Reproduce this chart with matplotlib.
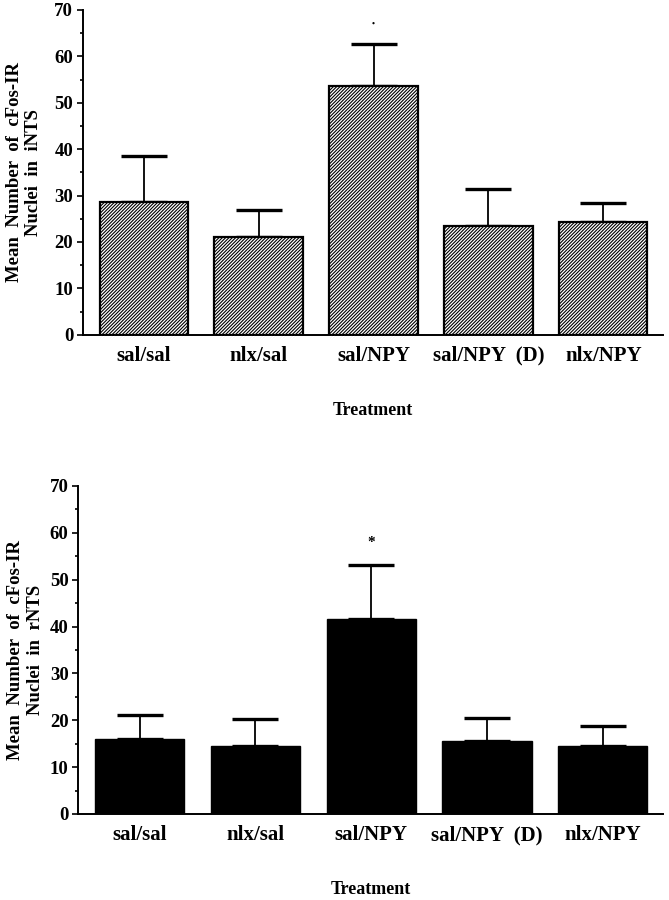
import numpy as np
import matplotlib
matplotlib.use('Agg')
import matplotlib.pyplot as plt
from matplotlib.ticker import MultipleLocator

# Data
treatments = ['sal/sal', 'nlx/sal', 'sal/NPY', 'sal/NPY  (D)', 'nlx/NPY']

intc_means = [28.7, 21.1, 53.6, 23.5, 24.4]
intc_upper = [38.5, 26.8, 62.6, 31.4, 28.4]
intc_star = 67.0

rnts_means = [16.1, 14.5, 41.7, 15.6, 14.5]
rnts_upper = [21.1, 20.3, 53.1, 20.5, 18.8]
rnts_star = 58.0

plt.rcParams['font.family'] = ['Liberation Serif', 'DejaVu Serif']
plt.rcParams['hatch.linewidth'] = 0.8

fig = plt.figure(figsize=(6.69, 9.0), dpi=100)
ax1 = fig.add_axes([0.124, 0.628, 0.867, 0.361])
ax2 = fig.add_axes([0.117, 0.0956, 0.874, 0.3644])


def draw_panel(ax, means, upper, star, star_text, star_size, ylabel,
               hatched, label_x):
    x = np.arange(len(treatments))
    means = np.array(means)
    err = np.array(upper) - means
    if hatched:
        ax.bar(x, means, width=0.77, color='white', edgecolor='black',
               hatch='/' * 10, linewidth=1.6, zorder=2)
    else:
        ax.bar(x, means, width=0.77, color='black', edgecolor='black',
               linewidth=1.0, zorder=2)
    ax.errorbar(x, means, yerr=[np.zeros_like(err), err], fmt='none',
                ecolor='black', elinewidth=1.3, capsize=16.5, capthick=2.4,
                zorder=1)
    # significance mark over sal/NPY
    ax.text(x[2], star, star_text, ha='center', va='center',
            fontsize=star_size, fontweight='bold')

    ax.set_xlim(-0.53, 4.52)
    ax.set_ylim(0, 70)
    ax.yaxis.set_major_locator(MultipleLocator(10))
    ax.yaxis.set_minor_locator(MultipleLocator(5))
    ax.tick_params(axis='y', which='major', direction='out', length=4,
                   width=1.2, labelsize=13.5, pad=3)
    ax.tick_params(axis='y', which='minor', direction='out', length=2.5,
                   width=1.2)
    for lab in ax.get_yticklabels():
        lab.set_fontweight('bold')
    ax.set_xticks(x)
    ax.set_xticklabels(treatments, fontsize=15, fontweight='bold')
    ax.tick_params(axis='x', length=0, pad=8)
    ax.spines['top'].set_visible(False)
    ax.spines['right'].set_visible(False)
    ax.spines['left'].set_linewidth(1.4)
    ax.spines['bottom'].set_linewidth(1.4)
    ax.set_xlabel('Treatment', fontsize=13, fontweight='bold', labelpad=26)
    ax.set_ylabel(ylabel, fontsize=13.5, fontweight='bold', linespacing=1.2)
    ax.yaxis.set_label_coords(label_x, 0.5)


draw_panel(ax1, intc_means, intc_upper, intc_star, '•', 6,
           'Mean  Number  of  cFos-IR\nNuclei  in  iNTS', True, -0.07)
draw_panel(ax2, rnts_means, rnts_upper, rnts_star, '*', 11,
           'Mean  Number  of  cFos-IR\nNuclei  in  rNTS', False, -0.059)

fig.savefig('out.png', dpi=100)
